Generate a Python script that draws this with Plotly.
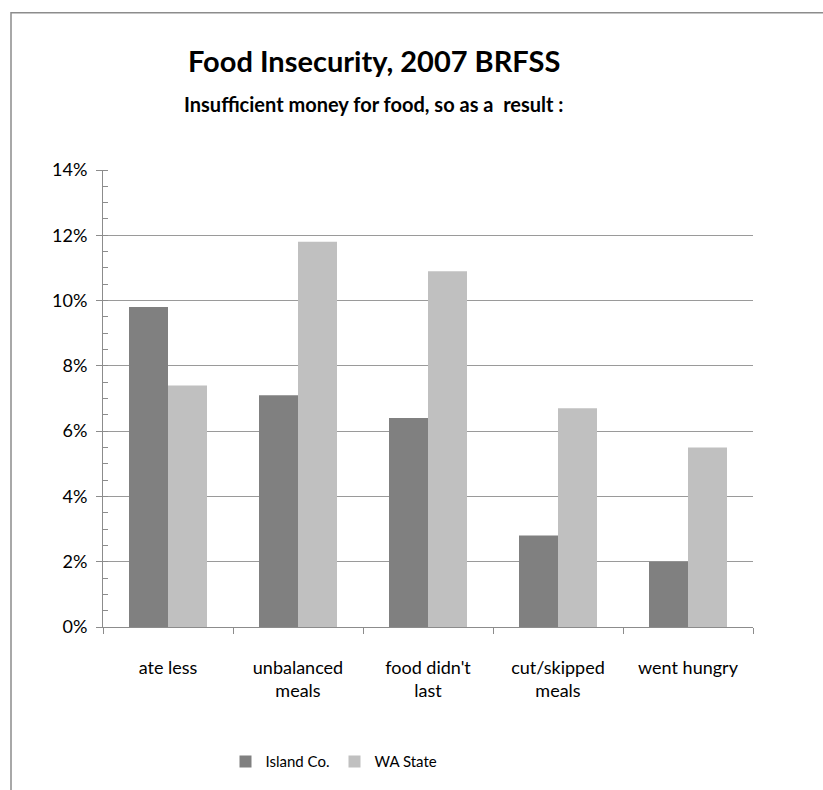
import plotly.graph_objects as go

categories = ["ate less", "unbalanced<br>meals", "food didn't<br>last", "cut/skipped<br>meals", "went hungry"]
island_co = [0.098, 0.071, 0.064, 0.028, 0.020]
wa_state = [0.074, 0.118, 0.109, 0.067, 0.055]
series_names = ["Island Co.", "WA State"]
y_ticks = [0, 0.02, 0.04, 0.06, 0.08, 0.10, 0.12, 0.14]

W, H = 823, 790
L, R, T, B = 103, 753, 170, 635

def px_x(x):
    return (x - L) / (R - L)

def px_y(y):
    return (B - y) / (B - T)

FONT = "Lato"

fig = go.Figure()
fig.add_trace(go.Bar(x=categories, y=island_co, name=series_names[0], marker_color="#808080", marker_line_width=0))
fig.add_trace(go.Bar(x=categories, y=wa_state, name=series_names[1], marker_color="#c0c0c0", marker_line_width=0))

fig.update_layout(
    width=W, height=H,
    margin=dict(l=L, r=W - R, t=T, b=H - B, pad=0),
    paper_bgcolor="white", plot_bgcolor="white",
    barmode="group", bargap=0.4, bargroupgap=0,
    font=dict(family=FONT, color="#000000", size=15),
    showlegend=True,
    legend=dict(orientation="h", x=px_x(334), y=px_y(772), xanchor="center", yanchor="middle",
                font=dict(size=15, family=FONT), itemwidth=30, traceorder="normal"),
    xaxis=dict(type="category", showline=True, linecolor="#8c8c8c", linewidth=1,
               ticks="outside", tickson="boundaries", ticklen=6, tickcolor="#8c8c8c",
               tickfont=dict(size=18), showgrid=False, ticklabelstandoff=24),
    yaxis=dict(range=[0, 0.14], tickvals=y_ticks, tickformat=".0%", showline=True,
               linecolor="#8c8c8c", linewidth=1, ticks="outside", ticklen=6, tickcolor="#8c8c8c",
               showgrid=True, gridcolor="#9a9a9a", gridwidth=1, zeroline=False,
               tickfont=dict(size=18), ticklabelstandoff=5,
               minor=dict(ticks="inside", dtick=0.005, ticklen=5, tickcolor="#8c8c8c", showgrid=False)),
    shapes=[dict(type="rect", xref="paper", yref="paper",
                 x0=px_x(11), x1=px_x(840), y0=px_y(820), y1=px_y(10),
                 line=dict(color="#8c8c8c", width=1.5), fillcolor="rgba(0,0,0,0)", layer="below")],
    annotations=[
        dict(text="<b>Food Insecurity, 2007 BRFSS</b>", xref="paper", yref="paper",
             x=px_x(374), y=px_y(59), xanchor="center", yanchor="middle", showarrow=False,
             font=dict(size=29, family=FONT)),
        dict(text="<b>Insufficient money for food, so as a  result :</b>", xref="paper", yref="paper",
             x=px_x(374), y=px_y(103), xanchor="center", yanchor="middle", showarrow=False,
             font=dict(size=20, family=FONT)),
    ],
)

fig.write_html("out.html")
